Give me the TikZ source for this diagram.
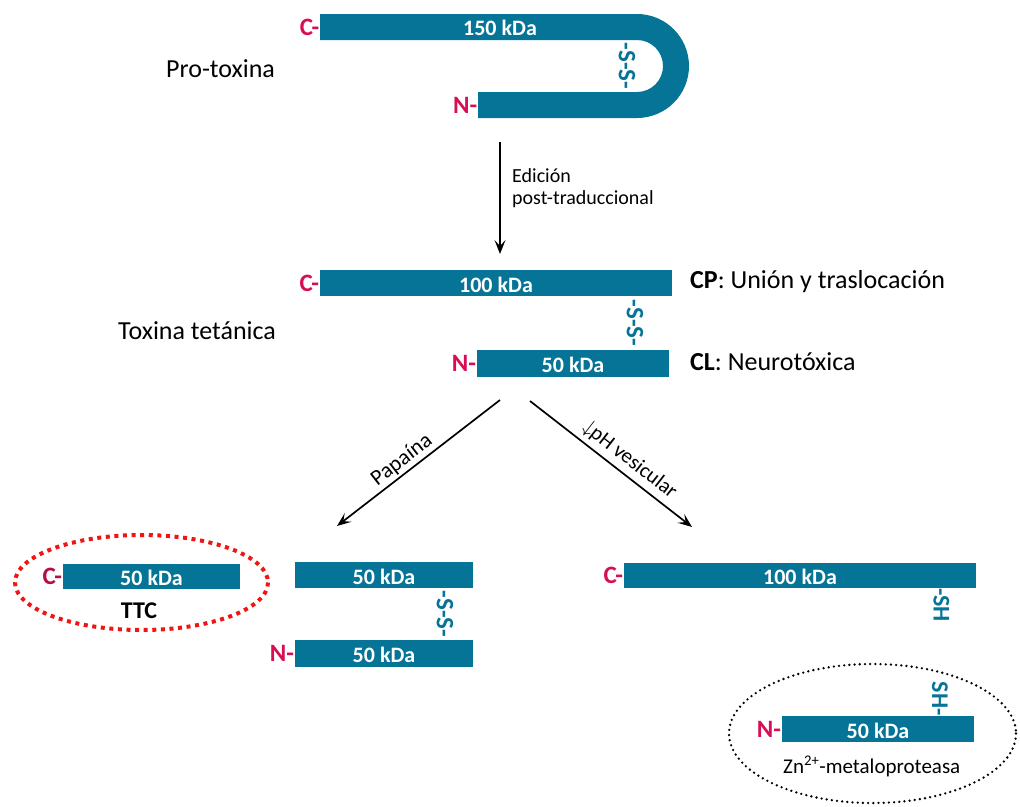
\documentclass[tikz,border=0pt]{standalone}
\usepackage{fontspec}
\setmainfont{Carlito}
\usetikzlibrary{arrows.meta}
\definecolor{barc}{RGB}{6,116,150}
\definecolor{termc}{RGB}{214,14,84}
\definecolor{ttcred}{RGB}{240,20,20}
\tikzset{
  bar/.style={fill=barc, draw=none, minimum height=26pt, inner sep=0pt, text=white,
    font=\fontsize{22}{22}\selectfont\bfseries, text height=18pt, text depth=0pt},
  term/.style={text=termc, font=\fontsize{25}{25}\selectfont\bfseries, inner sep=0.5pt, anchor=east},
  ss/.style={text=barc, font=\fontsize{25}{25}\selectfont\bfseries, rotate=-90, inner sep=0pt},
  lbl/.style={font=\fontsize{26}{30}\selectfont, inner sep=0pt, anchor=base west},
  small/.style={font=\fontsize{20}{22}\selectfont, inner sep=0pt, anchor=base west},
  flow/.style={line width=1.7pt, -{Stealth[length=14pt,width=11pt,inset=6pt]}},
  slab/.style={sloped, above},
}
\begin{document}
\begin{tikzpicture}[x=1pt,y=-1pt]
\useasboundingbox (0,0) rectangle (1020,806);

% ---- Pro-toxina (U shape)
\fill[barc] (320,14) -- (637,14) arc[start angle=-90, end angle=90, radius=52]
  -- (478,118) -- (478,92) -- (637,92) arc[start angle=90, end angle=-90, radius=26]
  -- (320,40) -- cycle;
\node[text=white, font=\fontsize{22}{22}\selectfont\bfseries, inner sep=0pt, anchor=base] (kd150) at (500,35) {150 kDa};
\coordinate (uC) at (320,27);
\coordinate (uN) at (478,105);
\node[term] (c1) at (uC) {C-};
\node[term] (n1) at (uN) {N-};
\node[ss] (ss1) at (627,66) {-S-S-};
\node[lbl] (protox) at (166,77) {Pro-toxina};

% ---- arrow 1
\coordinate (a1s) at (500,142);
\coordinate (a1e) at (500,254);
\draw[flow] (a1s) -- (a1e);
\node[small] (ed1) at (512,182) {Edición};
\node[small] (ed2) at (512,204) {post-traduccional};

% ---- Toxina tetanica
\node[bar, minimum width=352pt] (b100) at (496,283) {100 kDa};
\node[bar, minimum width=192pt, minimum height=27pt] (b50) at (573,363.5) {50 kDa};
\node[term] (c2) at (b100.west) {C-};
\node[term] (n2) at (b50.west) {N-};
\node[ss] (ss2) at (635,323) {-S-S-};
\node[lbl] (toxtet) at (118,339) {Toxina tetánica};
\node[lbl] (cp) at (690,288) {\textbf{CP}: Unión y traslocación};
\node[lbl] (cl) at (690,370) {\textbf{CL}: Neurotóxica};

% ---- split arrows
\coordinate (pas) at (500,400);
\coordinate (pae) at (337,526);
\coordinate (phs) at (530,401);
\coordinate (phe) at (692,527);
\draw[flow] (pas) -- (pae) node[slab, pos=0.555, above=-1pt, font=\fontsize{22}{22}\selectfont] (papa) {Papaína};
\draw[flow] (phs) -- (phe) node[slab, pos=0.56, above=1pt, font=\fontsize{21}{21}\selectfont] (phv) {{\fontsize{21}{21}\selectfont$\downarrow$}\kern-1pt pH vesicular};

% ---- Papaina products
\node[bar, minimum width=177pt, minimum height=25pt] (ttcbar) at (151.5,576.5) {50 kDa};
\node[term, text=termc!85!black] (c3) at (ttcbar.west) {C-};
\node[font=\fontsize{24}{24}\selectfont\bfseries, inner sep=0pt, anchor=base] (ttc) at (139,618) {TTC};
\draw[ttcred, line width=4pt, dash pattern=on 4pt off 4.6pt] (141.5,582.5) ellipse [x radius=126.5, y radius=47.5];

\node[bar, minimum width=178pt] (pa) at (384,575) {50 kDa};
\node[bar, minimum width=178pt, minimum height=27pt] (pb) at (384,653.5) {50 kDa};
\node[term] (n3) at (pb.west) {N-};
\node[ss] (ss3) at (445,614) {-S-S-};

% ---- pH products
\node[bar, minimum width=352pt, minimum height=25pt] (r100) at (800,575.5) {100 kDa};
\node[term] (c4) at (r100.west) {C-};
\node[ss, font=\fontsize{24}{24}\selectfont\bfseries, anchor=west] (sh1) at (941.5,588) {-SH};

\node[bar, minimum width=192pt] (r50) at (878,729) {50 kDa};
\node[term] (n4) at (r50.west) {N-};
\node[ss, font=\fontsize{24}{24}\selectfont\bfseries, anchor=east] (sh2) at (940,716) {SH-};
\node[font=\fontsize{21}{21}\selectfont, inner sep=0pt, anchor=base west] (zn) at (783,773) {Zn\textsuperscript{2+}-metaloproteasa};
\draw[black, line width=2.6pt, line cap=round, dash pattern=on 0pt off 5.2pt] (872.5,733.5) ellipse [x radius=143.5, y radius=69.5];
\end{tikzpicture}
\end{document}
